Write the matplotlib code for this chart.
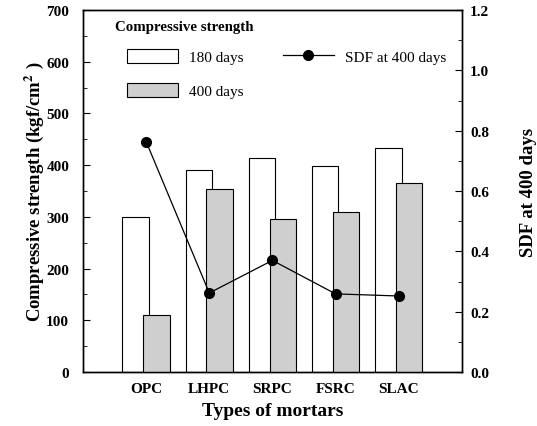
import matplotlib
matplotlib.use("Agg")
import matplotlib.pyplot as plt
from matplotlib.patches import Patch
from matplotlib.lines import Line2D
from matplotlib.ticker import MultipleLocator, FormatStrFormatter
import numpy as np

plt.rcParams['font.family'] = ['Liberation Serif', 'DejaVu Serif']
plt.rcParams['mathtext.fontset'] = 'stix'

mortars = ['OPC', 'LHPC', 'SRPC', 'FSRC', 'SLAC']
strength_180 = [300, 390, 413, 398, 434]
strength_400 = [111, 353, 295, 309, 366]
sdf_400 = [0.764, 0.262, 0.370, 0.259, 0.252]

x = np.arange(1, len(mortars) + 1)
gray = '#cfcfcf'

fig = plt.figure(figsize=(5.37, 4.27), dpi=100)
ax = fig.add_axes([0.1546, 0.1265, 0.7054, 0.8475])

ax.bar(x - 0.165, strength_180, width=0.42, facecolor='white', edgecolor='black', linewidth=0.8, zorder=2)
ax.bar(x + 0.165, strength_400, width=0.42, facecolor=gray, edgecolor='black', linewidth=0.8, zorder=3)

ax.set_xlim(0, 6)
ax.set_ylim(0, 700)
ax.set_xticks(x)
ax.set_xticklabels(mortars, fontweight='bold', fontsize=11)
ax.tick_params(axis='x', length=0, pad=7)
ax.yaxis.set_major_locator(MultipleLocator(100))
ax.yaxis.set_minor_locator(MultipleLocator(50))
ax.tick_params(axis='y', which='both', direction='in', labelsize=11, pad=10)
ax.tick_params(axis='y', which='major', length=5)
ax.tick_params(axis='y', which='minor', length=3)
for lab in ax.get_yticklabels():
    lab.set_fontweight('bold')
ax.set_xlabel('Types of mortars', fontsize=14, fontweight='bold', labelpad=5)
ax.set_ylabel(r'Compressive strength (kgf/cm$^{\mathbf{2}}$ )', fontsize=13.5, fontweight='bold', labelpad=0)

ax2 = ax.twinx()
ax2.plot(x, sdf_400, color='black', linewidth=0.9, marker='o', markersize=7, zorder=5)
ax2.set_ylim(0, 1.2)
ax2.yaxis.set_major_locator(MultipleLocator(0.2))
ax2.yaxis.set_minor_locator(MultipleLocator(0.1))
ax2.yaxis.set_major_formatter(FormatStrFormatter('%.1f'))
ax2.tick_params(axis='y', which='both', direction='in', labelsize=11, pad=6)
ax2.tick_params(axis='y', which='major', length=5)
ax2.tick_params(axis='y', which='minor', length=3)
for lab in ax2.get_yticklabels():
    lab.set_fontweight('bold')
ax2.set_ylabel('SDF at 400 days', fontsize=13.5, fontweight='bold', labelpad=22)

for a in (ax, ax2):
    for s in a.spines.values():
        s.set_linewidth(1.0)

# legend title drawn separately so the entries sit indented under it
ax2.text(0.084, 0.956, 'Compressive strength', transform=ax2.transAxes,
         fontsize=10.7, fontweight='bold', ha='left', va='center')

handles = [
    Patch(facecolor='white', edgecolor='black', linewidth=0.8, label='180 days'),
    Patch(facecolor=gray, edgecolor='black', linewidth=0.8, label='400 days'),
    Line2D([], [], color='black', linewidth=0.9, marker='o', markersize=7, label='SDF at 400 days'),
]
leg = ax2.legend(handles=handles, ncol=2, frameon=False, loc='upper left',
                 bbox_to_anchor=(0.1003, 0.91), borderaxespad=0,
                 fontsize=11, handlelength=3.3, handleheight=1.05,
                 columnspacing=2.6, handletextpad=0.75, labelspacing=1.25)

fig.savefig('out.png', dpi=100)
